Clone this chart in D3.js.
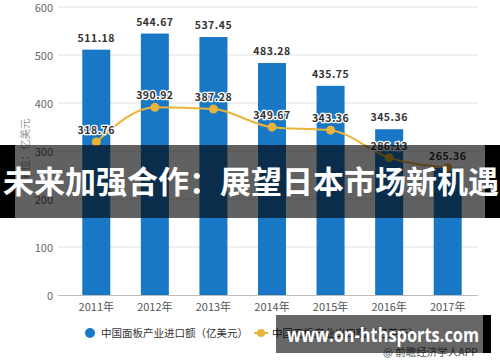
<!DOCTYPE html>
<html><head><meta charset="utf-8">
<script src="https://cdn.jsdelivr.net/npm/d3@7"></script>
<style>body{margin:0;background:#fff;}svg{display:block;}</style>
</head><body><svg id="c" width="500" height="362"></svg>
<script>
const years = ["2011年","2012年","2013年","2014年","2015年","2016年","2017年"];
const importVals = [511.18,544.67,537.45,483.28,435.75,345.36,265];
const importLabels = ["511.18","544.67","537.45","483.28","435.75","345.36",""];
const exportVals = [318.76,390.92,387.28,349.67,343.36,286.13,265.36];
const yTicks = [0,100,200,300,400,500,600];
const legendNames = ["中国面板产业进口额（亿美元）","中国面板产业出口额（亿美元）"];
const yTitle = "单位：亿美元";
const bannerText = "未来加强合作：展望日本市场新机遇";
const siteText = "www.on-hthsports.com";
const sourceText = "@ 前瞻经济学人APP";

const svg = d3.select("#c");
const font = "'Noto Sans CJK SC','Noto Sans',sans-serif";
const x = d3.scaleBand().domain(years).range([67,477]).paddingInner(0.52).paddingOuter(0.26);
const y = d3.scaleLinear().domain([0,600]).range([295,7]);

// grid
svg.append("g").selectAll("line").data(yTicks.slice(1)).join("line")
  .attr("x1",58).attr("x2",478).attr("y1",d=>y(d)).attr("y2",d=>y(d))
  .attr("stroke","#e3e3e3").attr("stroke-width",1);
// y axis labels
svg.append("g").selectAll("text").data(yTicks).join("text")
  .attr("x",53).attr("y",d=>y(d)+1).attr("dy","0.35em").attr("text-anchor","end")
  .attr("font-family",font).attr("font-size",11).attr("fill","#666").text(d=>d);
// y title
svg.append("text").attr("transform","translate(25,150) rotate(-90)")
  .attr("text-anchor","middle").attr("dy","0.35em")
  .attr("font-family",font).attr("font-size",10.5).attr("fill","#999").text(yTitle);

// bars
const bw = 28;
svg.append("g").selectAll("rect").data(years).join("rect")
  .attr("x",d=>x(d)+x.bandwidth()/2-bw/2).attr("width",bw)
  .attr("y",(d,i)=>y(importVals[i])).attr("height",(d,i)=>y(0)-y(importVals[i]))
  .attr("fill","#1878c6");
// x axis
svg.append("line").attr("x1",58).attr("x2",478).attr("y1",295.5).attr("y2",295.5).attr("stroke","#bbb");
svg.append("g").selectAll("text").data(years).join("text")
  .attr("x",d=>x(d)+x.bandwidth()/2).attr("y",307).attr("dy","0.35em").attr("text-anchor","middle")
  .attr("font-family",font).attr("font-size",11).attr("fill","#555").text(d=>d);
// bar labels
svg.append("g").selectAll("text").data(years).join("text")
  .attr("x",d=>x(d)+x.bandwidth()/2).attr("y",(d,i)=>y(importVals[i])-8)
  .attr("text-anchor","middle").attr("font-family",font).attr("font-size",10.5).attr("font-weight","bold")
  .attr("letter-spacing","0.5").attr("fill","#333").text((d,i)=>importLabels[i]);

// line
const cx = d=>x(d)+x.bandwidth()/2;
const line = d3.line().x((d,i)=>cx(years[i])).y(d=>y(d)).curve(d3.curveMonotoneX);
svg.append("path").datum(exportVals).attr("d",line).attr("fill","none")
  .attr("stroke","#eab33a").attr("stroke-width",2);
svg.append("g").selectAll("circle").data(exportVals).join("circle")
  .attr("cx",(d,i)=>cx(years[i])).attr("cy",d=>y(d)).attr("r",4.5).attr("fill","#eab33a");
svg.append("g").selectAll("text").data(exportVals).join("text")
  .attr("x",(d,i)=>cx(years[i])).attr("y",d=>y(d)-8)
  .attr("text-anchor","middle").attr("font-family",font).attr("font-size",10.5).attr("font-weight","bold")
  .attr("letter-spacing","0.5").attr("fill","#333").attr("stroke","#fff").attr("stroke-width",2.5)
  .attr("paint-order","stroke").text(d=>d.toFixed(2));

// legend
svg.append("circle").attr("cx",90).attr("cy",333).attr("r",5).attr("fill","#1878c6");
svg.append("text").attr("x",101).attr("y",333).attr("dy","0.35em").attr("font-family",font)
  .attr("font-size",10.5).attr("fill","#333").text(legendNames[0]);
svg.append("line").attr("x1",254).attr("x2",268).attr("y1",333).attr("y2",333).attr("stroke","#eab33a").attr("stroke-width",2);
svg.append("circle").attr("cx",261).attr("cy",333).attr("r",4).attr("fill","#eab33a");
svg.append("text").attr("x",272).attr("y",333).attr("dy","0.35em").attr("font-family",font)
  .attr("font-size",10.5).attr("fill","#333").text(legendNames[1]);
svg.append("text").attr("x",478).attr("y",352).attr("dy","0.35em").attr("text-anchor","end").attr("font-family",font)
  .attr("font-size",10.5).attr("fill","#555").text(sourceText);

// banner overlay
svg.append("rect").attr("x",0).attr("y",145).attr("width",500).attr("height",73).attr("fill","rgba(0,0,0,0.62)");
svg.append("rect").attr("x",0).attr("y",145).attr("width",15).attr("height",73).attr("fill","#000");
svg.append("rect").attr("x",485).attr("y",145).attr("width",15).attr("height",73).attr("fill","#000");
svg.append("text").attr("x",251).attr("y",182).attr("dy","0.36em").attr("text-anchor","middle")
  .attr("font-family",font).attr("font-size",31).attr("font-weight","bold").attr("fill","#fff").text(bannerText);

// site banner
svg.append("rect").attr("x",276).attr("y",315).attr("width",215).attr("height",38).attr("fill","rgba(0,0,0,0.6)");
svg.append("rect").attr("x",483).attr("y",315).attr("width",8).attr("height",38).attr("fill","#000");
svg.append("text").attr("x",287).attr("y",335).attr("dy","0.35em")
  .attr("textLength",192).attr("lengthAdjust","spacingAndGlyphs")
  .attr("font-family","'Open Sans','Liberation Sans',sans-serif").attr("font-size",20).attr("font-weight","bold").attr("fill","#fff").text(siteText);
</script></body></html>
